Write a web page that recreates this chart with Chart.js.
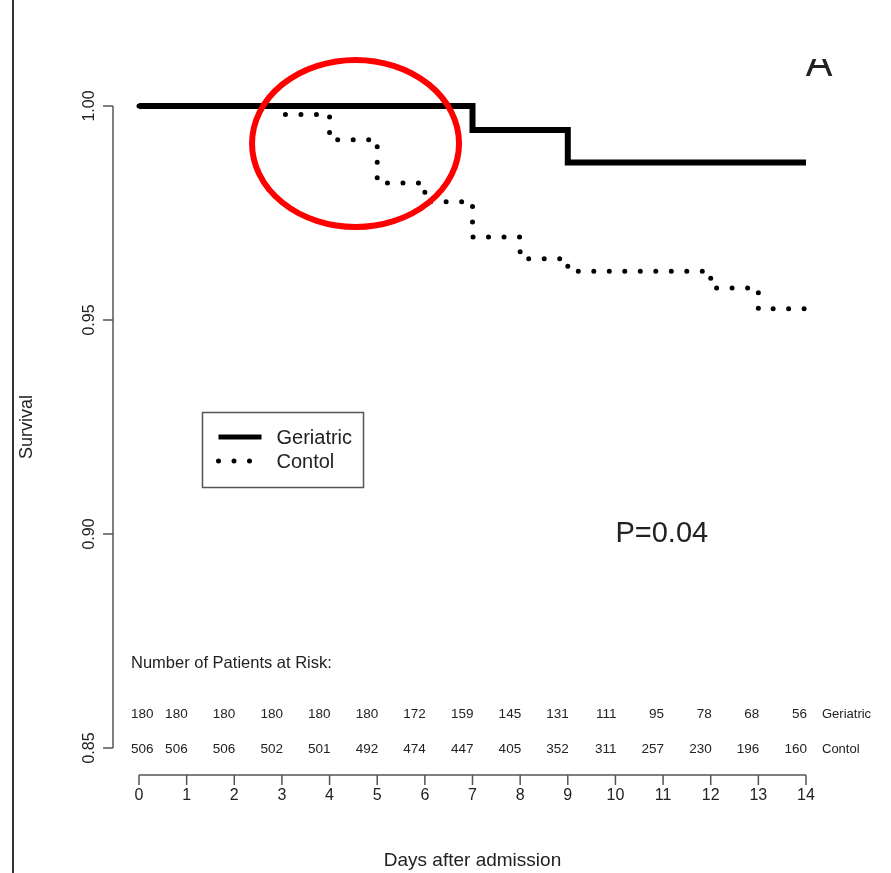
<!DOCTYPE html>
<html>
<head>
<meta charset="utf-8">
<script src="https://cdn.jsdelivr.net/npm/chart.js@4/dist/chart.umd.min.js"></script>
<style>
  html, body { margin: 0; padding: 0; background: #fff; }
  #wrap { width: 891px; height: 873px; }
</style>
</head>
<body>
<div id="wrap"><canvas id="km" width="891" height="873"></canvas></div>
<script>
// Kaplan-Meier survival, days 0-14 after admission
const days = [0, 1, 2, 3, 4, 5, 6, 7, 8, 9, 10, 11, 12, 13, 14];
const survivalTicks = [0.85, 0.90, 0.95, 1.00];

const geriatricTimes = [0, 7, 9, 14];
const geriatricSurvival = [1.0, 0.9944, 0.9868, 0.9868];

const controlTimes = [0, 3, 4, 5, 6, 7, 8, 9, 12, 13, 14];
const controlSurvival = [1.0, 0.998, 0.9921, 0.982, 0.9776, 0.9694, 0.9643, 0.9614, 0.9575, 0.9526, 0.9526];

// number of patients at risk at the start of each day
const atRiskGeriatric = [180, 180, 180, 180, 180, 180, 172, 159, 145, 131, 111, 95, 78, 68, 56];
const atRiskControl = [506, 506, 506, 502, 501, 492, 474, 447, 405, 352, 311, 257, 230, 196, 160];

const groupNames = ['Geriatric', 'Contol'];
const pValueText = 'P=0.04';
const panelLetter = 'A';

const toPoints = (t, s) => t.map((v, i) => ({ x: v, y: s[i] }));

const FONT = "'Liberation Sans', Arial, Helvetica, sans-serif";
const INK = '#222';

const extras = {
  id: 'extras',
  beforeDraw(chart) {
    const { ctx } = chart;
    ctx.save();
    ctx.fillStyle = '#fff';
    ctx.fillRect(0, 0, chart.width, chart.height);
    ctx.restore();
  },
  afterDraw(chart) {
    const { ctx, chartArea: area, scales: { x, y } } = chart;
    const ds = chart.data.datasets;
    ctx.save();

    // page edge rule
    ctx.strokeStyle = '#333';
    ctx.lineWidth = 2;
    ctx.beginPath();
    ctx.moveTo(13, 0);
    ctx.lineTo(13, chart.height);
    ctx.stroke();

    // R-style detached axes
    ctx.strokeStyle = '#555';
    ctx.lineWidth = 1.5;
    const yAxisX = area.left - 26;
    ctx.beginPath();
    ctx.moveTo(yAxisX, y.getPixelForValue(survivalTicks[survivalTicks.length - 1]));
    ctx.lineTo(yAxisX, y.getPixelForValue(survivalTicks[0]));
    survivalTicks.forEach(v => {
      const py = y.getPixelForValue(v);
      ctx.moveTo(yAxisX, py);
      ctx.lineTo(yAxisX - 10, py);
    });
    const xAxisY = area.bottom + 27;
    ctx.moveTo(x.getPixelForValue(days[0]), xAxisY);
    ctx.lineTo(x.getPixelForValue(days[days.length - 1]), xAxisY);
    days.forEach(d => {
      const px = x.getPixelForValue(d);
      ctx.moveTo(px, xAxisY);
      ctx.lineTo(px, xAxisY + 10);
    });
    ctx.stroke();

    // number at risk table
    ctx.fillStyle = INK;
    ctx.textBaseline = 'middle';
    ctx.font = '16.5px ' + FONT;
    ctx.textAlign = 'left';
    ctx.fillText('Number of Patients at Risk:', area.left - 8, area.bottom - 85);
    const rows = [
      { values: atRiskGeriatric, py: area.bottom - 34, name: groupNames[0] },
      { values: atRiskControl, py: area.bottom + 1, name: groupNames[1] }
    ];
    rows.forEach(r => {
      ctx.font = '13.5px ' + FONT;
      r.values.forEach((n, i) => {
        const px = x.getPixelForValue(days[i]);
        if (i === 0) {
          ctx.textAlign = 'left';
          ctx.fillText(String(n), px - 8, r.py);
        } else {
          ctx.textAlign = 'right';
          ctx.fillText(String(n), px + 1, r.py);
        }
      });
      ctx.textAlign = 'left';
      ctx.font = '13px ' + FONT;
      ctx.fillText(r.name, x.getPixelForValue(days[days.length - 1]) + 16, r.py);
    });

    // legend box
    const lx = area.left + 63.5, ly = area.top + 306.5;
    ctx.strokeStyle = '#555';
    ctx.lineWidth = 1.5;
    ctx.strokeRect(lx, ly, 161, 75);
    const items = [
      { ds: ds[0], py: ly + 24.5 },
      { ds: ds[1], py: ly + 48.5 }
    ];
    items.forEach(it => {
      ctx.save();
      ctx.strokeStyle = it.ds.borderColor;
      ctx.lineWidth = Math.min(it.ds.borderWidth, 5);
      ctx.lineCap = it.ds.borderCapStyle;
      ctx.setLineDash(it.ds.borderDash || []);
      ctx.beginPath();
      ctx.moveTo(lx + 16, it.py);
      ctx.lineTo(lx + 59, it.py);
      ctx.stroke();
      ctx.restore();
      ctx.fillStyle = INK;
      ctx.font = '20px ' + FONT;
      ctx.textAlign = 'left';
      ctx.textBaseline = 'middle';
      ctx.fillText(it.ds.label, lx + 74, it.py + 1);
    });

    // p-value
    ctx.font = '29px ' + FONT;
    ctx.fillStyle = INK;
    ctx.textAlign = 'left';
    ctx.textBaseline = 'middle';
    ctx.fillText(pValueText, x.getPixelForValue(10), y.getPixelForValue(0.9));

    // panel letter, top cut off by the page edge
    ctx.save();
    ctx.beginPath();
    ctx.rect(0, 59, chart.width, chart.height);
    ctx.clip();
    ctx.font = '40px ' + FONT;
    ctx.textAlign = 'center';
    ctx.textBaseline = 'alphabetic';
    ctx.fillStyle = INK;
    ctx.fillText(panelLetter, x.getPixelForValue(14) + 13, 76);
    ctx.restore();

    // highlight ring around the early control deaths
    ctx.strokeStyle = '#ff0000';
    ctx.lineWidth = 6;
    ctx.beginPath();
    ctx.ellipse(x.getPixelForValue(4.545), y.getPixelForValue(0.99124), 103.5, 83.5, 0, 0, Math.PI * 2);
    ctx.stroke();

    ctx.restore();
  }
};

new Chart(document.getElementById('km'), {
  type: 'line',
  data: {
    datasets: [
      {
        label: groupNames[0],
        data: toPoints(geriatricTimes, geriatricSurvival),
        stepped: 'before',
        borderColor: '#000',
        borderWidth: 6,
        borderCapStyle: 'butt',
        borderJoinStyle: 'miter',
        pointRadius: 0,
        clip: false,
        order: 0,
        fill: false
      },
      {
        label: groupNames[1],
        data: toPoints(controlTimes, controlSurvival),
        stepped: 'before',
        borderColor: '#000',
        borderWidth: 5,
        borderDash: [0, 15.5],
        borderCapStyle: 'round',
        pointRadius: 0,
        clip: false,
        order: 1,
        fill: false
      }
    ]
  },
  options: {
    responsive: false,
    animation: false,
    devicePixelRatio: 1,
    layout: { padding: { top: 106, right: 85, left: 0, bottom: 0 } },
    plugins: { legend: { display: false }, tooltip: { enabled: false } },
    scales: {
      x: {
        type: 'linear',
        min: days[0],
        max: days[days.length - 1],
        afterBuildTicks: s => { s.ticks = days.map(v => ({ value: v })); },
        afterFit: s => { s.height = 125; },
        grid: { display: false, drawTicks: false },
        border: { display: false },
        ticks: {
          padding: 38,
          maxRotation: 0,
          autoSkip: false,
          color: INK,
          font: { family: FONT, size: 16 },
          callback: v => String(v)
        },
        title: {
          display: true,
          text: 'Days after admission',
          color: INK,
          font: { family: FONT, size: 19 },
          padding: { top: 0, bottom: 1 }
        }
      },
      y: {
        type: 'linear',
        min: survivalTicks[0],
        max: survivalTicks[survivalTicks.length - 1],
        afterBuildTicks: s => { s.ticks = survivalTicks.map(v => ({ value: v })); },
        afterFit: s => { s.width = 139; },
        grid: { display: false, drawTicks: false },
        border: { display: false },
        ticks: {
          padding: 34,
          minRotation: 90,
          maxRotation: 90,
          crossAlign: 'center',
          color: INK,
          font: { family: FONT, size: 16 },
          callback: v => v.toFixed(2)
        },
        title: {
          display: true,
          text: 'Survival',
          color: INK,
          font: { family: FONT, size: 18 },
          padding: { top: 16, bottom: 0 }
        }
      }
    }
  },
  plugins: [extras]
});
</script>
</body>
</html>
